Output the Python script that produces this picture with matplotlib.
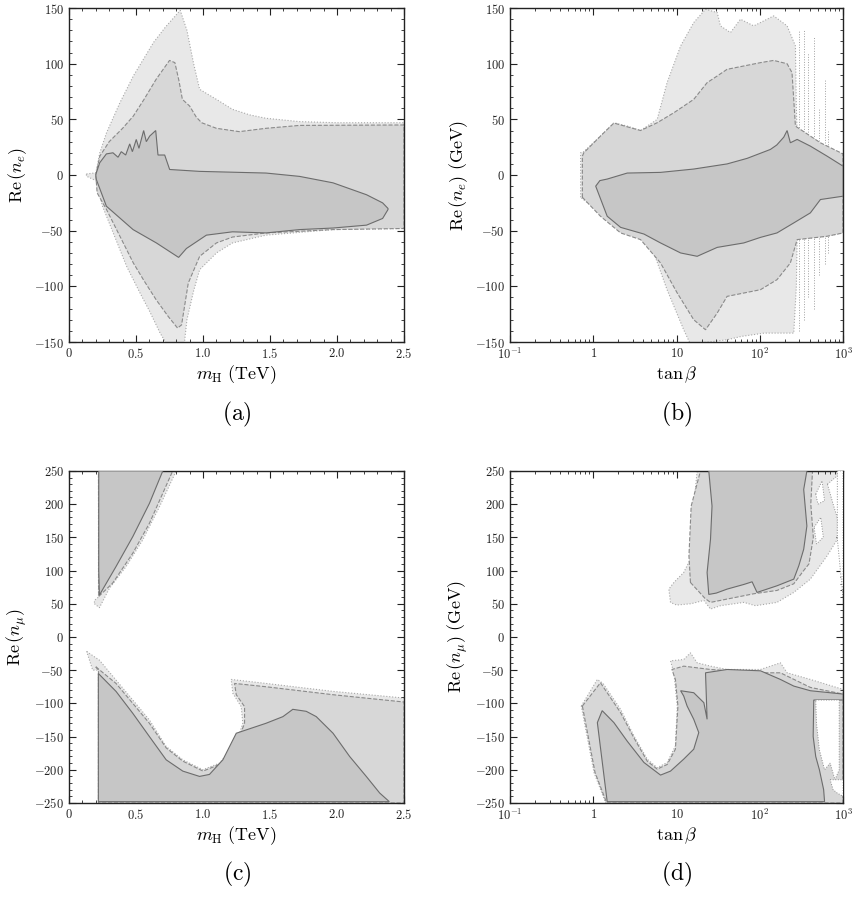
import matplotlib
matplotlib.use("Agg")
import matplotlib.pyplot as plt
import numpy as np

plt.rcParams['mathtext.fontset'] = 'cm'
plt.rcParams['font.family'] = 'serif'

# ---------------- panel (a): Re(n_e) vs m_H ----------------
a_out_up_x = [0.13, 0.20, 0.23, 0.28, 0.38, 0.48, 0.56, 0.63, 0.72, 0.83, 0.88, 0.93, 0.975, 1.10, 1.22, 1.35, 1.47, 1.72, 2.0, 2.5]
a_out_up_y = [1, 2, 20, 38, 65, 89, 105, 119, 133, 148, 130, 100, 77, 68, 59, 54, 51, 48, 47, 47]
a_out_lo_x = [0.13, 0.20, 0.25, 0.35, 0.43, 0.53, 0.60, 0.68, 0.73, 0.86, 0.88, 0.93, 0.975, 1.10, 1.22, 1.47, 1.97, 2.5]
a_out_lo_y = [-1, -5, -28, -58, -82, -106, -122, -142, -152, -152, -130, -104, -85, -70, -61, -54, -49, -48]

a_mid_up_x = [0.20, 0.23, 0.30, 0.40, 0.48, 0.56, 0.65, 0.75, 0.79, 0.82, 0.846, 0.90, 0.95, 0.99, 1.10, 1.27, 1.47, 1.72, 2.5]
a_mid_up_y = [0, 17, 30, 42, 53, 68, 86, 103, 101, 85, 68, 62, 52, 47, 42, 39, 42, 44.6, 45]
a_mid_lo_x = [0.20, 0.21, 0.28, 0.48, 0.56, 0.65, 0.74, 0.81, 0.84, 0.89, 0.975, 1.10, 1.22, 1.47, 1.97, 2.5]
a_mid_lo_y = [0, -16, -31, -79, -95, -112, -127, -137.5, -134.6, -97, -73, -61, -55.7, -52, -49, -48]

a_in_up_x = [0.20, 0.204, 0.229, 0.279, 0.328, 0.366, 0.39, 0.423, 0.453, 0.473, 0.502, 0.522, 0.557, 0.577, 0.602, 0.647, 0.664, 0.714, 0.751, 0.975, 1.47, 1.72, 1.97, 2.22, 2.34, 2.38]
a_in_up_y = [0, 2, 11, 19, 20, 16, 21, 18, 28, 21, 32, 24, 40, 30, 35, 40, 18, 18, 5, 3.3, 1.8, -1.2, -7, -17.7, -25, -30]
a_in_lo_x = [0.20, 0.204, 0.279, 0.478, 0.652, 0.818, 0.876, 1.025, 1.22, 1.47, 1.72, 1.97, 2.22, 2.34, 2.38]
a_in_lo_y = [0, -4, -28, -49, -61, -74, -66, -54, -51, -52, -49, -47.6, -45, -39, -31]

# ---------------- panel (b): Re(n_e) vs tan(beta) ----------------
b_out_up_x = [0.705, 0.705, 0.77, 1.34, 1.77, 2.56, 3.7, 5.86, 7.7, 11.2, 16.1, 22.3, 30.8, 33.7, 44.5, 58.6, 84.7, 147, 213, 268, 275, 281, 405, 643, 929, 1000]
b_out_up_y = [-20, 20, 21, 38, 47, 44, 40, 50, 83, 116, 137, 149, 146, 134, 128, 140, 134, 143, 134, 116, 60, 38, 29, 20, 19, 19]
b_out_lo_x = [0.705, 1.22, 2.13, 3.7, 5.35, 7.7, 12.2, 14.7, 40.5, 60, 113, 256, 275, 281, 643, 1000]
b_out_lo_y = [-20, -34, -46, -52, -70, -103, -139, -152, -148, -145, -142, -142, -100, -58, -55, -52]

b_mid_up_x = [0.74, 0.74, 0.77, 1.34, 1.77, 3.7, 5.86, 9.3, 16.1, 23.3, 30.8, 40.5, 64.3, 102, 147, 213, 244, 268, 535, 1000]
b_mid_up_y = [-20, 17, 20, 38, 46.7, 40, 47, 56, 68, 83, 89, 95, 98, 101, 103, 100, 92, 44, 29, 19]
b_mid_lo_x = [0.74, 1.22, 2.13, 3.7, 6.43, 10.2, 16.1, 22.3, 30.8, 40.5, 64.3, 102, 161, 233, 281, 643, 1000]
b_mid_lo_y = [-20, -37, -52, -58, -79, -106, -130, -139, -124, -109, -106, -103, -94, -79, -58, -55, -52]

b_in_up_x = [1.07, 1.2, 1.47, 2.56, 6.43, 16.1, 40.5, 70.5, 134, 160, 194, 213, 233, 281, 405, 643, 1000]
b_in_up_y = [-10, -5, -3.6, 1.8, 2.4, 5.4, 10, 15, 23, 27, 34, 40, 29, 32, 26, 17, 8]
b_in_lo_x = [1.07, 1.47, 2.13, 4.06, 6.43, 11.2, 17.7, 30.8, 64.3, 102, 161, 256, 405, 535, 1000]
b_in_lo_y = [-10, -37, -47, -53, -61, -70, -73, -65, -61, -56, -52, -43, -34, -22, -19]

b_streak_x = [300, 337, 380, 446, 520, 600, 660]
b_streak_top = [130, 130, 110, 125, 60, 85, 40]
b_streak_bot = [-140, -130, -110, -120, -90, -80, -70]

# ---------------- panel (c): Re(n_mu) vs m_H ----------------
c_top_out_x = [0.19, 0.227, 0.301, 0.426, 0.55, 0.675, 0.80, 0.22, 0.22, 0.19]
c_top_out_y = [50, 44, 73, 106, 146, 196, 250, 250, 60, 55]
c_top_mid_x = [0.222, 0.326, 0.476, 0.60, 0.774, 0.22]
c_top_mid_y = [61, 81, 126, 171, 250, 250]
c_top_in_x = [0.227, 0.351, 0.476, 0.60, 0.70, 0.222, 0.222]
c_top_in_y = [63, 106, 151, 201, 250, 250, 100]

c_bot_out_x = [0.132, 0.227, 0.351, 0.476, 0.60, 0.725, 0.849, 0.999, 1.123, 1.248, 1.297, 1.285, 1.223, 1.21, 1.47, 1.97, 2.5, 2.5, 0.22, 0.22, 0.177]
c_bot_out_y = [-22, -35, -65, -95, -125, -165, -185, -200, -190, -160, -130, -105, -85, -64, -70, -82, -92, -250, -250, -50, -50]
c_bot_mid_x = [0.20, 0.351, 0.476, 0.60, 0.725, 0.849, 1.0, 1.123, 1.248, 1.31, 1.31, 1.248, 1.235, 1.47, 1.97, 2.5, 2.5, 0.22, 0.22]
c_bot_mid_y = [-45, -70, -100, -130, -167, -187, -202, -192, -162, -130, -105, -87, -70, -75, -87, -98, -250, -250, -50]
c_bot_in_x = [0.219, 0.351, 0.476, 0.60, 0.725, 0.849, 0.974, 1.048, 1.148, 1.248, 1.322, 1.47, 1.596, 1.67, 1.77, 1.845, 1.97, 2.094, 2.218, 2.318, 2.39, 0.219]
c_bot_in_y = [-55, -82, -115, -150, -185, -202, -210, -207, -185, -145, -140, -130, -120, -109, -112, -120, -145, -180, -210, -235, -248, -248]

# ---------------- panel (d): Re(n_mu) vs tan(beta) ----------------
d_top_out_x = [8.47, 8.09, 9.3, 12.2, 16.1, 16.1, 17.7, 855, 855, 643, 405, 256, 161, 88.8, 64.3, 33.7, 25.6, 21.3, 15, 10]
d_top_out_y = [52, 72, 82, 97, 127, 197, 250, 250, 147, 122, 87, 67, 52, 47, 52, 47, 42, 55, 50, 48]
d_top_mid_x = [14.7, 14.1, 15, 19.4, 430, 410, 440, 390, 337, 256, 161, 84.7, 40.5, 25.6, 22, 18]
d_top_mid_y = [82, 122, 197, 250, 250, 200, 150, 110, 100, 80, 70, 65, 57, 52, 58, 70]
d_top_in_x = [24.4, 23.3, 25.6, 26.7, 24.4, 368, 337, 368, 337, 294, 256, 161, 92.7, 80.9, 64.3, 40.5, 30]
d_top_in_y = [64, 97, 147, 197, 250, 250, 222, 167, 132, 107, 87, 77, 67, 83, 79, 72, 66]

d_bot_out_x = [0.718, 1.12, 1.31, 2.13, 3.08, 4.45, 5.86, 7.73, 9.7, 10.2, 9.3, 8.47, 12.2, 14.7, 17.7, 25.6, 40.5, 102, 177, 213, 405, 1000, 1000, 1.41, 1.02]
d_bot_out_y = [-104, -64, -70, -109, -149, -184, -197, -189, -164, -104, -54, -36, -34, -24, -39, -44, -49, -49, -39, -54, -64, -79, -250, -250, -204]
d_bot_mid_x = [0.74, 1.22, 2.13, 3.08, 4.45, 5.86, 7.73, 9.7, 10.4, 9.7, 8.8, 12.2, 25.6, 102, 177, 405, 1000, 1000, 1.45, 1.05]
d_bot_mid_y = [-104, -69, -114, -152, -187, -199, -192, -169, -104, -64, -49, -44, -49, -54, -54, -76, -86, -250, -250, -204]
d_bot_in_x = [1.12, 1.28, 1.77, 2.56, 4.06, 6.43, 8.47, 12.2, 16.1, 18.5, 16.1, 13.4, 12.2, 11.2, 16.1, 21.3, 23.3, 22.3, 40.5, 102, 177, 256, 405, 1000, 1000, 445, 438, 470, 520, 585, 600, 1.47]
d_bot_in_y = [-129, -111, -129, -157, -189, -208, -202, -184, -169, -144, -124, -104, -89, -81, -84, -99, -124, -54, -49, -51, -64, -74, -81, -86, -95, -95, -150, -180, -200, -230, -248, -248]

d_holes = [
    ([470, 900, 900, 800, 700, 600, 520, 480], [-95, -95, -200, -215, -190, -200, -170, -130]),
    ([700, 1000, 1000, 850, 760], [-215, -215, -240, -235, -230]),
    ([450, 540, 580, 480], [165, 180, 150, 140]),
    ([470, 560, 600, 500], [215, 235, 205, 200]),
    ([650, 900, 900, 760], [230, 245, 170, 200]),
    ([855, 1000, 1000, 855], [250, 250, 60, 147]),
]

# tick labels
mh_ticks = [0, 0.5, 1.0, 1.5, 2.0, 2.5]
mh_labels = ['$0$', '$0.5$', '$1.0$', '$1.5$', '$2.0$', '$2.5$']
tb_ticks = [0.1, 1, 10, 100, 1000]
tb_labels = ['$10^{-1}$', '$1$', '$10$', '$10^{2}$', '$10^{3}$']
ne_ticks = [-150, -100, -50, 0, 50, 100, 150]
nmu_ticks = [-250, -200, -150, -100, -50, 0, 50, 100, 150, 200, 250]

C_OUT, C_MID, C_IN = '#e8e8e8', '#d7d7d7', '#c6c6c6'
E_OUT, E_MID, E_IN = '#a8a8a8', '#8a8a8a', '#6c6c6c'


def poly(upx, upy, lox, loy):
    return list(upx) + list(lox)[::-1], list(upy) + list(loy)[::-1]


def region(ax, xs, ys, fc, ec, ls, z):
    ax.fill(xs, ys, facecolor=fc, edgecolor=ec, linestyle=ls, linewidth=0.8, zorder=z)


def style(ax, ylim, yticks, ylabel, xlabel, logx):
    ax.set_ylim(*ylim)
    ax.set_yticks(yticks)
    ax.set_yticklabels(['$%d$' % v if v >= 0 else '$-%d$' % -v for v in yticks])
    ax.yaxis.set_minor_locator(matplotlib.ticker.MultipleLocator(10))
    if logx:
        ax.set_xscale('log')
        ax.set_xlim(0.1, 1000)
        ax.set_xticks(tb_ticks)
        ax.set_xticklabels(tb_labels)
    else:
        ax.set_xlim(0, 2.5)
        ax.set_xticks(mh_ticks)
        ax.set_xticklabels(mh_labels)
        ax.xaxis.set_minor_locator(matplotlib.ticker.MultipleLocator(0.1))
    ax.tick_params(which='both', direction='in', top=True, right=True, labelsize=9, colors='#222222')
    ax.tick_params(which='major', length=5, width=0.8)
    ax.tick_params(which='minor', length=2.5, width=0.6)
    for s in ax.spines.values():
        s.set_linewidth(1.0)
        s.set_color('#222222')
    ax.set_xlabel(xlabel, fontsize=13, labelpad=2)
    ax.set_ylabel(ylabel, fontsize=13, labelpad=4)


fig = plt.figure(figsize=(8.57, 9.0), dpi=100)
ax_a = fig.add_axes([0.0805, 0.620, 0.391, 0.371])
ax_b = fig.add_axes([0.5951, 0.620, 0.3886, 0.371])
ax_c = fig.add_axes([0.0805, 0.1078, 0.391, 0.369])
ax_d = fig.add_axes([0.5951, 0.1078, 0.3886, 0.369])

# (a)
region(ax_a, *poly(a_out_up_x, a_out_up_y, a_out_lo_x, a_out_lo_y), C_OUT, E_OUT, ':', 1)
region(ax_a, *poly(a_mid_up_x, a_mid_up_y, a_mid_lo_x, a_mid_lo_y), C_MID, E_MID, '--', 2)
region(ax_a, *poly(a_in_up_x, a_in_up_y, a_in_lo_x, a_in_lo_y), C_IN, E_IN, '-', 3)
style(ax_a, (-150, 150), ne_ticks, r'$\mathrm{Re}\,(n_e)$', r'$m_{\mathrm{H}}\ (\mathrm{TeV})$', False)

# (b)
ax_b.vlines(b_streak_x, b_streak_bot, b_streak_top, colors='#a0a0a0', linestyles=':', linewidth=0.7, zorder=0.5)
region(ax_b, *poly(b_out_up_x, b_out_up_y, b_out_lo_x, b_out_lo_y), C_OUT, E_OUT, ':', 1)
region(ax_b, *poly(b_mid_up_x, b_mid_up_y, b_mid_lo_x, b_mid_lo_y), C_MID, E_MID, '--', 2)
region(ax_b, *poly(b_in_up_x, b_in_up_y, b_in_lo_x, b_in_lo_y), C_IN, E_IN, '-', 3)
style(ax_b, (-150, 150), ne_ticks, r'$\mathrm{Re}\,(n_e)\ (\mathrm{GeV})$', r'$\tan\beta$', True)

# (c)
region(ax_c, c_top_out_x, c_top_out_y, C_OUT, E_OUT, ':', 1)
region(ax_c, c_top_mid_x, c_top_mid_y, C_MID, E_MID, '--', 2)
region(ax_c, c_top_in_x, c_top_in_y, C_IN, E_IN, '-', 3)
region(ax_c, c_bot_out_x, c_bot_out_y, C_OUT, E_OUT, ':', 1)
region(ax_c, c_bot_mid_x, c_bot_mid_y, C_MID, E_MID, '--', 2)
region(ax_c, c_bot_in_x, c_bot_in_y, C_IN, E_IN, '-', 3)
style(ax_c, (-250, 250), nmu_ticks, r'$\mathrm{Re}\,(n_\mu)$', r'$m_{\mathrm{H}}\ (\mathrm{TeV})$', False)

# (d)
region(ax_d, d_top_out_x, d_top_out_y, C_OUT, E_OUT, ':', 1)
region(ax_d, d_top_mid_x, d_top_mid_y, C_MID, E_MID, '--', 2)
region(ax_d, d_top_in_x, d_top_in_y, C_IN, E_IN, '-', 3)
region(ax_d, d_bot_out_x, d_bot_out_y, C_OUT, E_OUT, ':', 1)
region(ax_d, d_bot_mid_x, d_bot_mid_y, C_MID, E_MID, '--', 2)
region(ax_d, d_bot_in_x, d_bot_in_y, C_IN, E_IN, '-', 3)
for hx, hy in d_holes:
    ax_d.fill(hx, hy, facecolor='white', edgecolor='#909090', linestyle=':', linewidth=0.7, zorder=4)
style(ax_d, (-250, 250), nmu_ticks, r'$\mathrm{Re}\,(n_\mu)\ (\mathrm{GeV})$', r'$\tan\beta$', True)

for lab, x, y in [('(a)', 0.2765, 0.540), ('(b)', 0.790, 0.540), ('(c)', 0.2765, 0.028), ('(d)', 0.790, 0.028)]:
    fig.text(x, y, r'$\mathrm{%s}$' % lab, fontsize=17, ha='center', va='center')

fig.savefig('out.png', dpi=100)
